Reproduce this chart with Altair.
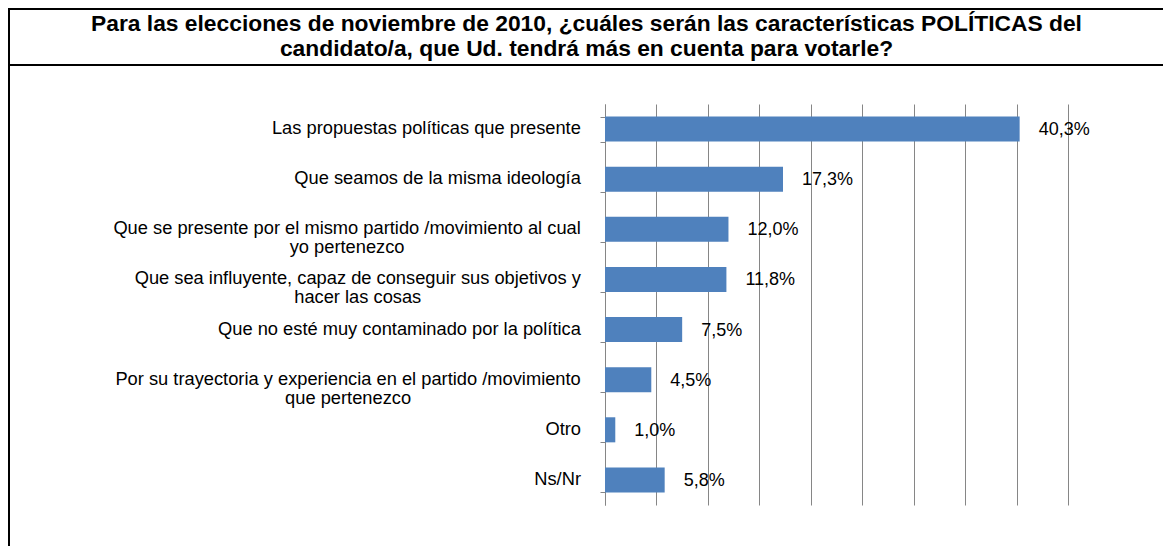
import altair as alt
import pandas as pd

# ---------------- data ----------------
categorias = [
    "Las propuestas políticas que presente",
    "Que seamos de la misma ideología",
    "Que se presente por el mismo partido /movimiento al cual\nyo pertenezco",
    "Que sea influyente, capaz de conseguir sus objetivos y\nhacer las cosas",
    "Que no esté muy contaminado por la política",
    "Por su trayectoria y experiencia en el partido /movimiento\nque pertenezco",
    "Otro",
    "Ns/Nr",
]
valores = [40.3, 17.3, 12.0, 11.8, 7.5, 4.5, 1.0, 5.8]
titulo = [
    "Para las elecciones de noviembre de 2010, ¿cuáles serán las características POLÍTICAS del",
    "candidato/a, que  Ud. tendrá más en cuenta para votarle?",
]
x_max = 45
grid_vals = list(range(0, x_max + 1, 5))

# ---------------- layout ----------------
FONT = "Liberation Sans"
LABEL_SIZE = 18.3
VALUE_SIZE = 18
W, H = 463, 401
PAD_L, PAD_T = 597, 96
TOTAL_W, TOTAL_H = 1155, 538
LABEL_RIGHT = -24  # right edge of the category labels, in px relative to the axis

# Arial / Liberation Sans advance widths (per 1000 em)
_w = {" ": 278, "/": 278, ",": 278, ".": 278, "%": 889,
      "L": 556, "Q": 778, "P": 667, "O": 778, "N": 722,
      "a": 556, "b": 556, "c": 500, "d": 556, "e": 556, "f": 278, "g": 556,
      "h": 556, "i": 222, "j": 222, "k": 500, "l": 222, "m": 833, "n": 556,
      "o": 556, "p": 556, "q": 556, "r": 333, "s": 500, "t": 278, "u": 556,
      "v": 500, "w": 722, "x": 500, "y": 500, "z": 500,
      "á": 556, "é": 556, "í": 278, "ó": 556, "ú": 556}


def text_width(s, size):
    return sum(_w.get(ch, 556) for ch in s) * size / 1000.0


# centre of each (possibly two-line) category label, converted to x-scale units
px_per_unit = W / x_max
label_x = [(LABEL_RIGHT - max(text_width(l, LABEL_SIZE) for l in c.split("\n")) / 2) / px_per_unit
           for c in categorias]

df = pd.DataFrame({
    "cat": categorias,
    "val": valores,
    "lx": label_x,
    "vlabel": [f"{v:.1f}".replace(".", ",") + "%" for v in valores],
})

y_enc = alt.Y(
    "cat:N", sort=categorias, title=None,
    scale=alt.Scale(paddingInner=0.5, paddingOuter=0.25),
    axis=alt.Axis(labels=False, ticks=True, tickBand="extent", tickSize=5,
                  tickColor="#868686", domainColor="#868686", grid=False),
)
x_scale = alt.Scale(domain=[0, x_max], nice=False, zero=False)

base = alt.Chart(df)

bars = base.mark_bar(color="#4F81BD").encode(
    y=y_enc,
    x=alt.X("val:Q", title=None, scale=x_scale,
            axis=alt.Axis(values=grid_vals, labels=False, ticks=False, domain=False,
                          grid=True, gridColor="#868686", gridWidth=1)),
)

values_txt = base.mark_text(align="left", baseline="middle", dx=19, dy=1,
                            font=FONT, fontSize=VALUE_SIZE, color="black").encode(
    y=alt.Y("cat:N", sort=categorias),
    x=alt.X("val:Q"),
    text="vlabel:N",
)

cat_txt = base.mark_text(align="center", baseline="middle", lineBreak="\n",
                         lineHeight=19, font=FONT, fontSize=LABEL_SIZE,
                         color="black").encode(
    y=alt.Y("cat:N", sort=categorias),
    x=alt.X("lx:Q"),
    text="cat:N",
)

one = pd.DataFrame({"k": [0]})
LEFT, RIGHT, TOP, TITLE_BOTTOM, BOTTOM = -596, TOTAL_W - PAD_L, -95, -39, TOTAL_H - PAD_T


def hrule(y):
    return alt.Chart(one).mark_rule(color="black", strokeWidth=2).encode(
        x=alt.value(LEFT - 1), x2=alt.value(RIGHT), y=alt.value(y))


def vrule(x):
    return alt.Chart(one).mark_rule(color="black", strokeWidth=2).encode(
        x=alt.value(x), y=alt.value(TOP - 1), y2=alt.value(BOTTOM))


# the title is laid out above the bounds of all marks (frame top at -96),
# so a negative offset brings it back inside the title box
chart = alt.layer(
    bars, values_txt, cat_txt, hrule(TOP), hrule(TITLE_BOTTOM), vrule(LEFT)
).properties(
    width=W, height=H,
    autosize=alt.AutoSizeParams(type="none"),
    padding={"left": PAD_L, "top": PAD_T,
             "right": TOTAL_W - PAD_L - W, "bottom": TOTAL_H - PAD_T - H},
    title=alt.TitleParams(text=titulo, font=FONT, fontSize=22.8, fontWeight="bold",
                          color="black", anchor="middle", dx=-250, offset=-54,
                          lineHeight=25),
).configure_view(stroke=None)

chart.save("out.html", embed_options={"renderer": "svg", "actions": False})
